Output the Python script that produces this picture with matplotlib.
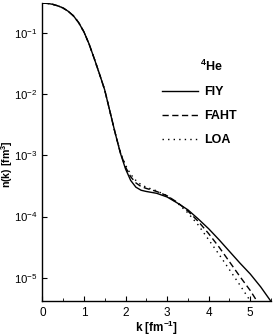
import numpy as np
import matplotlib
matplotlib.use("Agg")
import matplotlib.pyplot as plt
from matplotlib.ticker import LogLocator, MultipleLocator

plt.rcParams['font.family'] = ['Liberation Sans', 'DejaVu Sans']
plt.rcParams['mathtext.default'] = 'regular'

# momentum k [fm^-1] and log10 n(k)
k = [0, 0.125, 0.25, 0.375, 0.5, 0.625, 0.75, 0.875, 1.0, 1.125, 1.25, 1.375, 1.5,
     1.75, 1.875, 2.0, 2.125, 2.25, 2.375, 2.5, 2.75, 3.0, 3.25, 3.5, 3.75, 4.0,
     4.25, 4.5, 4.75, 5.0, 5.25, 5.5]
log_n_fiy = [-0.51, -0.515, -0.53, -0.555, -0.59, -0.645, -0.72, -0.83, -0.98, -1.18,
             -1.42, -1.67, -1.93, -2.63, -2.96, -3.22, -3.41, -3.52, -3.57, -3.59,
             -3.62, -3.68, -3.78, -3.89, -4.04, -4.20, -4.38, -4.57, -4.76, -4.94,
             -5.15, -5.39]
log_n_faht = [-0.51, -0.515, -0.53, -0.555, -0.59, -0.645, -0.72, -0.83, -0.98, -1.18,
              -1.42, -1.67, -1.93, -2.63, -2.95, -3.19, -3.35, -3.45, -3.51, -3.54,
              -3.59, -3.66, -3.77, -3.91, -4.08, -4.28, -4.50, -4.74, -4.98, -5.21,
              -5.48, -5.75]
log_n_loa = [-0.51, -0.515, -0.53, -0.555, -0.59, -0.645, -0.72, -0.83, -0.98, -1.18,
             -1.42, -1.67, -1.93, -2.63, -2.94, -3.16, -3.31, -3.41, -3.48, -3.52,
             -3.58, -3.66, -3.78, -3.94, -4.14, -4.38, -4.62, -4.87, -5.12, -5.38,
             -5.65, -5.90]
labels = ['FIY', 'FAHT', 'LOA']
nucleus = '$^4$He'

fig = plt.figure(figsize=(2.73, 3.36), dpi=100)
ax = fig.add_axes([0.155, 0.103, 0.838, 0.888])

k = np.array(k)
ax.plot(k, 10 ** np.array(log_n_fiy), color='black', lw=1.0, label=labels[0])
ax.plot(k, 10 ** np.array(log_n_faht), color='black', lw=1.0, dashes=(4.5, 2.5), label=labels[1])
ax.plot(k, 10 ** np.array(log_n_loa), color='black', lw=1.0, dashes=(1, 3), label=labels[2])

ax.set_yscale('log')
ax.set_xlim(0, 5.5)
ax.set_ylim(4.1e-6, 0.31)

ax.spines['top'].set_visible(False)
ax.spines['right'].set_visible(False)
for s in ['left', 'bottom']:
    ax.spines[s].set_linewidth(1.0)

ax.xaxis.set_major_locator(MultipleLocator(1))
ax.xaxis.set_minor_locator(MultipleLocator(0.5))
ax.yaxis.set_major_locator(LogLocator(base=10))
ax.tick_params(which='major', direction='in', length=3.5, width=0.8, labelsize=8.5, pad=4)
ax.tick_params(axis='y', labelsize=8.2, pad=3.5)
ax.tick_params(which='minor', direction='in', length=2, width=0.6)
ax.tick_params(axis='y', which='minor', length=0)

ax.set_xlabel('k [fm$^{-1}$]', fontsize=8.5, fontweight='bold', labelpad=0)
ax.set_ylabel('n(k) [fm$^3$]', fontsize=7.6, fontweight='bold')
ax.yaxis.set_label_coords(-0.119, 0.46)

ax.text(0.689, 0.788, nucleus, transform=ax.transAxes, fontsize=9,
        fontweight='bold', ha='left', va='center')
ax.legend(loc='upper left', bbox_to_anchor=(0.475, 0.758),
          frameon=False, handlelength=2.9, handletextpad=0.45,
          labelspacing=0.95, prop={'weight': 'bold', 'size': 9})

fig.savefig('out.png', dpi=100)
